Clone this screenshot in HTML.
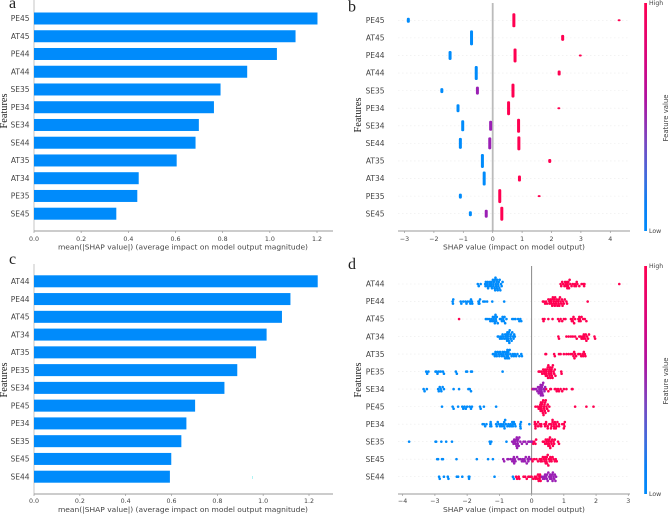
<!DOCTYPE html>
<html>
<head>
<meta charset="utf-8">
<title>SHAP summary charts</title>
<style>
html,body{margin:0;padding:0;background:#fff;width:669px;height:515px;overflow:hidden}
svg{display:block;filter:blur(0.3px)}
text{font-family:"DejaVu Sans","Liberation Sans",sans-serif;fill:#444}
text.serif{font-family:"Liberation Serif",serif;fill:#222}
</style>
</head>
<body>
<svg id="root" width="669" height="515" viewBox="0 0 669 515" xmlns="http://www.w3.org/2000/svg">
<defs>
<linearGradient id="cbar" x1="0" y1="0" x2="0" y2="1">
<stop offset="0" stop-color="#ff0051"/>
<stop offset="0.25" stop-color="#d6057f"/>
<stop offset="0.42" stop-color="#b012a0"/>
<stop offset="0.6" stop-color="#7c46c0"/>
<stop offset="0.78" stop-color="#3a6fe0"/>
<stop offset="0.88" stop-color="#0a80f5"/>
<stop offset="1" stop-color="#008bfb"/>
</linearGradient>
</defs>
<g id="panel-a"></g>
<g id="panel-b"></g>
<g id="panel-c"></g>
<g id="panel-d"></g>
</svg>
<script>
// Panel a
const aFeatures = ['PE45','AT45','PE44','AT44','SE35','PE34','SE34','SE44','AT35','AT34','PE35','SE45'];
const aValues = [1.202,1.109,1.03,0.904,0.791,0.763,0.699,0.685,0.605,0.444,0.438,0.349];
const aTicks = [0,0.2,0.4,0.6,0.8,1.0,1.2];
// Panel c
const cFeatures = ['AT44','PE44','AT45','AT34','AT35','PE35','SE34','PE45','PE34','SE35','SE45','SE44'];
const cValues = [1.238,1.119,1.082,1.015,0.969,0.887,0.831,0.703,0.665,0.643,0.599,0.593];
const cTicks = [0,0.2,0.4,0.6,0.8,1.0,1.2];
// Panel b: clusters of samples per feature
const bFeatures = ['PE45','AT45','PE44','AT44','SE35','PE34','SE34','SE44','AT35','AT34','PE35','SE45'];
const bClusterValues = [[-2.87,0.72,4.3],[-0.72,2.38],[-1.45,0.76,2.98],[-0.56,2.26],[-1.73,-0.52,0.69],[-1.18,0.54,2.25],[-1.02,-0.07,0.88],[-1.10,-0.10,0.89],[-0.35,1.94],[-0.29,0.91],[-1.10,0.24,1.58],[-0.76,-0.22,0.31]];
const bClusterCounts = [[5,14,2],[15,6],[9,14,2],[14,5],[5,8,14],[8,14,2],[11,10,14],[11,12,14],[14,4],[14,6],[5,14,2],[5,8,14]];
const bClusterLevels = [[0,1,1],[0,1],[0,1,1],[0,1],[0,0.5,1],[0,1,1],[0,0.5,1],[0,0.5,1],[0,1],[0,1],[0,1,1],[0,0.5,1]];
const bTicks = [-3,-2,-1,0,1,2,3,4];
// Panel d
const dFeatures = ['AT44','PE44','AT45','AT34','AT35','PE35','SE34','PE45','PE34','SE35','SE45','SE44'];
const dLowValues = [
[-1.67,-1.64,-1.58,-1.44,-1.43,-1.42,-1.38,-1.37,-1.36,-1.35,-1.31,-1.30,-1.29,-1.26,-1.25,-1.24,-1.23,-1.20,-1.19,-1.18,-1.17,-1.15,-1.14,-1.13,-1.12,-1.11,-1.10,-1.09,-1.08,-1.07,-1.05,-1.04,-1.03,-1.02,-1.00,-.99,-.97,-.95,-.93,-.90],
[-2.45,-2.44,-2.43,-2.20,-2.18,-2.12,-2.05,-2.02,-1.98,-1.92,-1.90,-1.88,-1.85,-1.84,-1.65,-1.64,-1.63,-1.62,-1.60,-1.50,-1.45,-1.38,-1.22,-.85],
[-1.42,-1.38,-1.32,-1.28,-1.25,-1.22,-1.20,-1.18,-1.16,-1.15,-1.14,-1.12,-1.11,-1.10,-1.08,-1.05,-.98,-.95,-.92,-.90,-.88,-.86,-.84,-.82,-.78,-.60,-.55,-.50,-.42,-.38,-.35,-.32],
[-1.05,-1.02,-.98,-.95,-.92,-.90,-.88,-.85,-.82,-.80,-.79,-.78,-.76,-.75,-.74,-.73,-.72,-.71,-.70,-.69,-.68,-.66,-.65,-.64,-.62,-.60,-.58,-.56,-.54,-.52],
[-1.20,-1.17,-1.14,-1.12,-1.10,-1.08,-1.05,-1.02,-1.0,-.98,-.95,-.92,-.90,-.88,-.86,-.84,-.82,-.80,-.78,-.77,-.76,-.75,-.74,-.73,-.72,-.70,-.68,-.66,-.62,-.58,-.55,-.52,-.48,-.44,-.38,-.32,-.3],
[-3.27,-3.24,-3.2,-2.98,-2.95,-2.92,-2.88,-2.82,-2.75,-2.72,-2.35,-2.32,-2.03,-2.0,-1.88,-1.85,-.90],
[-3.35,-3.32,-3.25,-2.9,-2.88,-2.85,-2.82,-2.80,-2.76,-2.72,-2.42,-2.25,-1.96,-1.92,-1.88],
[-2.78,-2.45,-2.42,-2.28,-2.15,-2.12,-2.08,-2.04,-2.0,-1.92,-1.88,-1.85,-1.6,-1.58,-1.48,-1.1],
[-1.52,-1.48,-1.44,-1.4,-1.28,-1.28,-1.27,-1.26,-1.25,-1.1,-1.08,-1.05,-1.02,-.98,-.95,-.92,-.88,-.85,-.85,-.84,-.82,-.8,-.75,-.72,-.68,-.65,-.62,-.6,-.58,-.58,-.55,-.52,-.5,-.35,-.35,-.33,-.34,-.07],
[-3.8,-2.98,-2.96,-2.8,-2.65,-2.47,-1.3,-1.28,-1.25,-.78],
[-2.93,-2.9,-2.78,-2.75,-2.33,-1.7,-1.35,-1.2],
[-2.87,-2.85,-2.72,-2.6,-2.58,-2.32,-2.28,-2.15,-1.95,-1.94,-1.93,-1.15,-.58,-.55]
];
const dMidValues = [
[],[],[],[],[],[],
[.05,.12,.15,.18,.20,.22,.24,.25,.26,.27,.28,.29,.30,.31,.32,.33,.34,.35,.36,.38,.40,.42],
[],[],
[-.6,-.58,-.56,-.54,-.52,-.5,-.48,-.47,-.46,-.45,-.44,-.43,-.42,-.4,-.38,-.35,-.3,-.25,-.2,-.15,-.1,-.05,.0],
[-.88,-.85,-.75,-.72,-.65,-.6,-.58,-.56,-.55,-.54,-.52,-.5,-.45,-.4,-.35,-.3,-.28,-.25,-.22,-.2,-.18,-.15,-.12,-.1,-.08,-.05],
[.32,.35,.38,.4,.42,.45,.47,.48,.5,.52,.55,.57,.58,.6,.62,.64,.65,.66,.68,.7,.72,.74,.76]
];
const dHighValues = [
[.90,.92,.95,.98,1.02,1.04,1.06,1.08,1.10,1.11,1.12,1.13,1.14,1.16,1.18,1.20,1.24,1.28,1.33,1.35,1.38,1.40,1.42,1.48,1.55,1.60,1.63,1.64,2.72],
[.35,.38,.42,.45,.48,.52,.55,.56,.58,.60,.62,.63,.64,.66,.68,.69,.70,.72,.73,.75,.76,.78,.80,.82,.84,.85,.86,.88,.90,.92,.94,.96,.98,1.00,1.03,1.08,1.10,1.74],
[-2.25,.35,.37,.40,.52,.65,.82,.86,.90,.95,1.0,1.05,1.22,1.25,1.27,1.28,1.30,1.32,1.35,1.45,1.47,1.48,1.50,1.52,1.55,1.60,1.65,1.70],
[.83,.85,1.08,1.15,1.22,1.28,1.35,1.40,1.48,1.52,1.55,1.58,1.60,1.62,1.64,1.66,1.68,1.70,1.72,1.75,1.78,1.95,1.97],
[.43,.45,.70,.72,.85,.90,1.0,1.08,1.15,1.22,1.27,1.30,1.32,1.33,1.35,1.38,1.45,1.50,1.54,1.58,1.60,1.62,1.65,1.67],
[.22,.25,.30,.33,.36,.38,.40,.42,.44,.45,.46,.47,.48,.50,.51,.52,.53,.54,.55,.56,.57,.58,.60,.61,.62,.63,.64,.65,.66,.68,.70,.72,.74,.92,.93],
[.03,.08,.45,.52,.58,.6,.72,.75,.78,.82,.85,.9,.95,1.0,1.08,1.25,1.27],
[.12,.18,.22,.24,.26,.27,.28,.29,.3,.31,.32,.33,.34,.35,.36,.37,.38,.39,.4,.41,.42,.43,.44,.46,.48,.5,.52,.55,1.35,1.7,1.92],
[.1,.12,.1,.15,.2,.25,.28,.3,.4,.42,.45,.5,.55,.6,.62,.65,.68,.7,.72,.75,.78,.8,.85,.95,1.0,1.02,1.03,.12,.3,.45,.6,.7,.85,1.0,.2,.5,.65,.75],
[.02,.05,.08,.12,.14,.35,.38,.42,.44,.46,.48,.5,.52,.53,.54,.55,.56,.57,.58,.6,.62,.64,.66,.68,.7,.72,.82,.85],
[.0,.03,.08,.15,.2,.25,.28,.3,.32,.35,.38,.4,.42,.44,.45,.46,.47,.48,.5,.52,.54,.56,.58,.6,.62,.65,.68,.72,.75,.78],
[-.48,-.45,-.4,-.38,-.25,-.2,-.15,-.1,-.05,0,.05,.1,.12,.15,.18,.2,.22,.24,.25,.26,.28,.3]
];
const dTicks = [-4,-3,-2,-1,0,1,2,3];

const NS = 'http://www.w3.org/2000/svg';
const RED = '#ff0051', BLUE = '#008bfb', PURPLE = '#9a1fb4';

function shape(parent, tag, attrs, name) {
  const el = document.createElementNS(NS, tag);
  for (const k in attrs) el.setAttribute(k, attrs[k]);
  
  
  parent.appendChild(el);
  return el;
}
function label(parent, x, y, str, size, anchor, name, extra) {
  const el = shape(parent, 'text', Object.assign({x: x, y: y, 'font-size': size, 'text-anchor': anchor}, extra || {}), name);
  el.textContent = str;
  return el;
}
function rotatedLabel(parent, x, y, str, size, name, cls, len) {
  const attrs = {transform: 'rotate(-90 ' + x + ' ' + y + ')'};
  if (cls) attrs['class'] = cls;
  if (len) { attrs.textLength = len; attrs.lengthAdjust = 'spacingAndGlyphs'; }
  return label(parent, x, y, str, size, 'middle', name, attrs);
}
function fmt(v) { return v.toFixed(1); }
function fmtInt(v) { return (v < 0 ? '\u2212' : '') + Math.abs(v); }
function linear(d0, r0, d1, r1) { return v => r0 + (v - d0) * (r1 - r0) / (d1 - d0); }

function barPanel(g, features, values, ticks, xScale, yScale, axisTop, axisY, tickY, titleY, letter, letterY, featureY) {
  shape(g, 'line', {x1: 34, x2: 34, y1: axisTop, y2: axisY, stroke: '#c4c4c4', 'stroke-width': 1}, 'y-axis-line');
  shape(g, 'line', {x1: 34, x2: 333, y1: axisY, y2: axisY, stroke: '#999', 'stroke-width': 1}, 'x-axis-line');
  features.forEach((f, i) => {
    const y = yScale(i);
    shape(g, 'rect', {x: xScale(0), y: y - 6, width: xScale(values[i]) - xScale(0), height: 12, fill: BLUE}, 'bar-' + f.toLowerCase());
    label(g, 29.5, y + 2.7, f, 7.5, 'end', 'y-tick-label');
  });
  ticks.forEach(t => {
    const x = xScale(t);
    shape(g, 'line', {x1: x, x2: x, y1: axisY, y2: axisY + 2, stroke: '#999', 'stroke-width': 0.7}, 'x-tick');
    label(g, x, tickY, fmt(t), 6.3, 'middle', 'x-tick-label');
  });
  label(g, 183, titleY, 'mean(|SHAP value|) (average impact on model output magnitude)', 7.4, 'middle', 'x-axis-title', {textLength: 250, lengthAdjust: 'spacingAndGlyphs'});
  rotatedLabel(g, 7, featureY, 'Features', 10, 'y-axis-title', 'serif', 35);
  label(g, 9, letterY, letter, 16, 'start', 'panel-letter', {'class': 'serif'});
}

function swarm(g, values, color, y, xScale, name) {
  const bins = {};
  values.forEach(v => {
    const b = Math.round(xScale(v) / 2.4);
    bins[b] = (bins[b] || 0) + 1;
    const n = bins[b];
    const off = (n % 2 ? -1 : 1) * Math.floor(n / 2) * 2.1;
    const c = shape(g, 'circle', {cx: xScale(v), cy: y + off, r: 1.3, fill: color}, name);
    c.setAttribute('data-value', v);
  });
}

function axisScaffold(g, features, ticks, xScale, yScale, axisY, tickY, titleY, zeroTop, zeroColor, zeroWidth, cbarTop, cbarBottom, fy) {
  features.forEach((f, i) => {
    const y = yScale(i);
    shape(g, 'line', {x1: 398, x2: 630, y1: y, y2: y, stroke: '#ececec', 'stroke-width': 0.6, 'stroke-dasharray': '1.5 2.5'}, 'row-guide');
    label(g, 384.5, y + 2.7, f, 7.5, 'end', 'y-tick-label');
  });
  shape(g, 'line', {x1: xScale(0), x2: xScale(0), y1: zeroTop, y2: axisY, stroke: zeroColor, 'stroke-width': zeroWidth}, 'zero-line');
  shape(g, 'line', {x1: 398, x2: 630, y1: axisY, y2: axisY, stroke: '#999', 'stroke-width': 1}, 'x-axis-line');
  ticks.forEach(t => {
    const x = xScale(t);
    shape(g, 'line', {x1: x, x2: x, y1: axisY, y2: axisY + 2, stroke: '#999', 'stroke-width': 0.7}, 'x-tick');
    label(g, x, tickY, fmtInt(t), 6.3, 'middle', 'x-tick-label');
  });
  label(g, 514, titleY, 'SHAP value (impact on model output)', 7.4, 'middle', 'x-axis-title', {textLength: 142, lengthAdjust: 'spacingAndGlyphs'});
  rotatedLabel(g, 361, fy, 'Features', 10, 'y-axis-title', 'serif', 35);
  shape(g, 'rect', {x: 644.2, y: cbarTop, width: 2.8, height: cbarBottom - cbarTop, fill: 'url(#cbar)'}, 'colorbar');
  label(g, 649, cbarTop + 2, 'High', 6.2, 'start', 'colorbar-high-label');
  label(g, 649, cbarBottom + 2, 'Low', 6.2, 'start', 'colorbar-low-label');
  rotatedLabel(g, 668, (cbarTop + cbarBottom) / 2 + 1, 'Feature value', 7, 'colorbar-title', null, 47);
}

// Panel a
const gA = document.getElementById('panel-a');
barPanel(gA, aFeatures, aValues, aTicks, linear(0, 34, 1.2, 317), linear(0, 18.5, 11, 213.7), 0, 231, 241, 249.5, 'a', 8, 111);

// Panel c
const gC = document.getElementById('panel-c');
barPanel(gC, cFeatures, cValues, cTicks, linear(0, 34, 1.2, 309), linear(0, 281.3, 11, 476.7), 264, 494, 503, 512, 'c', 264, 380);
shape(gC, 'rect', {x: 252, y: 476, width: 0.8, height: 3, fill: '#9ff0ee'}, 'stray-mark');

// Panel b
const gB = document.getElementById('panel-b');
const bX = linear(0, 492.7, 4, 610.3), bY = linear(0, 20.3, 11, 213.7);
axisScaffold(gB, bFeatures, bTicks, bX, bY, 231, 241, 249.5, 3, '#bbb', 1.8, 3, 231, 115);
label(gB, 348, 11.5, 'b', 16, 'start', 'panel-letter', {'class': 'serif'});
bFeatures.forEach((f, i) => {
  bClusterValues[i].forEach((v, j) => {
    const h = bClusterCounts[i][j], lv = bClusterLevels[i][j];
    const color = lv === 0 ? BLUE : lv === 1 ? RED : PURPLE;
    shape(gB, 'rect', {x: bX(v) - 1.5, y: bY(i) - h / 2, width: 3, height: h, rx: 1.2, fill: color}, 'point-cluster-' + f.toLowerCase());
  });
});

// Panel d
const gD = document.getElementById('panel-d');
const dX = linear(0, 531.6, 3, 628.3), dY = linear(0, 284, 11, 476.7);
axisScaffold(gD, dFeatures, dTicks, dX, dY, 494, 503, 512, 266, '#888', 1, 266, 494, 380);
label(gD, 348, 269, 'd', 16, 'start', 'panel-letter', {'class': 'serif'});
dFeatures.forEach((f, i) => {
  swarm(gD, dLowValues[i], BLUE, dY(i), dX, 'low-point-' + f.toLowerCase());
  swarm(gD, dHighValues[i], RED, dY(i), dX, 'high-point-' + f.toLowerCase());
  swarm(gD, dMidValues[i], PURPLE, dY(i), dX, 'mid-point-' + f.toLowerCase());
});
</script>
</body>
</html>
